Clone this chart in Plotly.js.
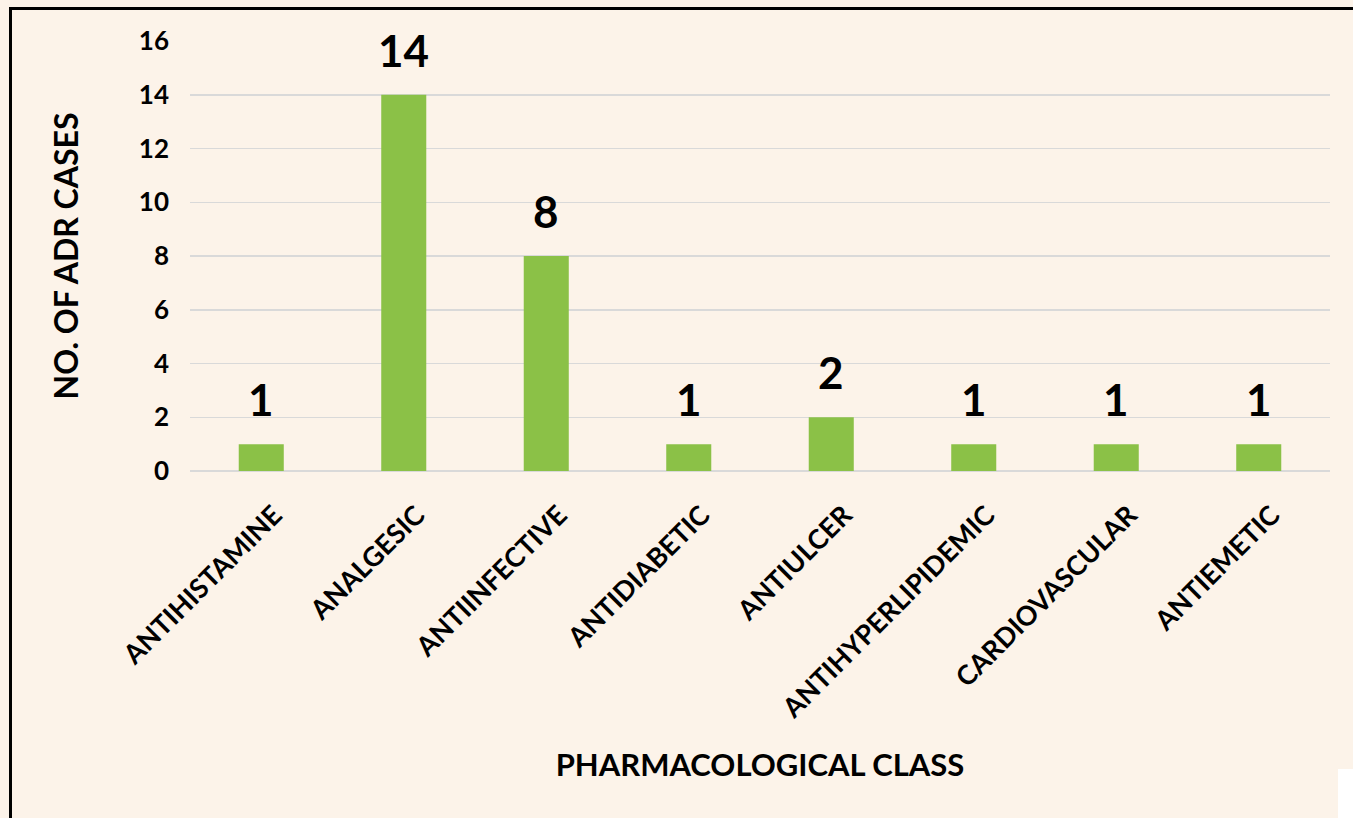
<!DOCTYPE html>
<html><head><meta charset="utf-8">
<script src="https://cdn.plot.ly/plotly-3.0.1.min.js"></script>
<style>
html,body{margin:0;padding:0;background:#FCF3E9;}
#wrap{position:relative;width:1353px;height:818px;background:#FCF3E9;overflow:hidden;}
#chart{position:absolute;left:0;top:0;width:1353px;height:818px;}
#frame{position:absolute;left:9px;top:7px;width:1400px;height:900px;border-left:3px solid #000;border-top:3px solid #000;pointer-events:none;}
#corner{position:absolute;left:1338px;top:769px;width:20px;height:60px;background:#fff;}
</style></head>
<body><div id="wrap"><div id="chart"></div><div id="frame"></div><div id="corner"></div></div>
<script>
const categories = ["ANTIHISTAMINE","ANALGESIC","ANTIINFECTIVE","ANTIDIABETIC","ANTIULCER","ANTIHYPERLIPIDEMIC","CARDIOVASCULAR","ANTIEMETIC"];
const adrCases = [1,14,8,1,2,1,1,1];
const yTicks = [0,2,4,6,8,10,12,14,16];

const fontFam = "Lato, 'Open Sans', 'DejaVu Sans', sans-serif";
const trace = {
  type:'bar', x:categories, y:adrCases,
  marker:{color:'#8BC147'},
  hoverinfo:'none'
};
const annotations = categories.map((c,i)=>({
  x:c, y:adrCases[i], xref:'x', yref:'y', text:String(adrCases[i]),
  showarrow:false, yanchor:'bottom', yshift:17,
  font:{family:fontFam, size:44, color:'#000', weight:'bold'}
}));
const layout = {
  width:1353, height:818,
  paper_bgcolor:'rgba(0,0,0,0)', plot_bgcolor:'rgba(0,0,0,0)',
  margin:{l:190,r:23,t:41,b:347},
  bargap:0.684,
  showlegend:false,
  font:{family:fontFam, color:'#000'},
  annotations:annotations,
  xaxis:{
    tickangle:-45, tickfont:{size:27, weight:'bold', family:fontFam},
    showgrid:false, showline:false, ticks:'', zeroline:false, ticklabelstandoff:22, ticklabelshift:13,
    title:{text:'PHARMACOLOGICAL CLASS', font:{size:31, weight:'bold', family:fontFam}, standoff:31}
  },
  yaxis:{
    range:[0,16], tickvals:yTicks, ticktext:yTicks.map(String),
    tickfont:{size:26, weight:'bold', family:fontFam},
    gridcolor:'#D9D9D9', gridwidth:1.5, zeroline:true, zerolinecolor:'#D9D9D9', zerolinewidth:2,
    showline:false, ticks:'', ticklabelstandoff:20,
    title:{text:'NO. OF ADR CASES', font:{size:32, weight:'bold', family:fontFam}, standoff:50}
  }
};
Plotly.newPlot('chart',[trace],layout,{displayModeBar:false, staticPlot:true});
</script></body></html>
